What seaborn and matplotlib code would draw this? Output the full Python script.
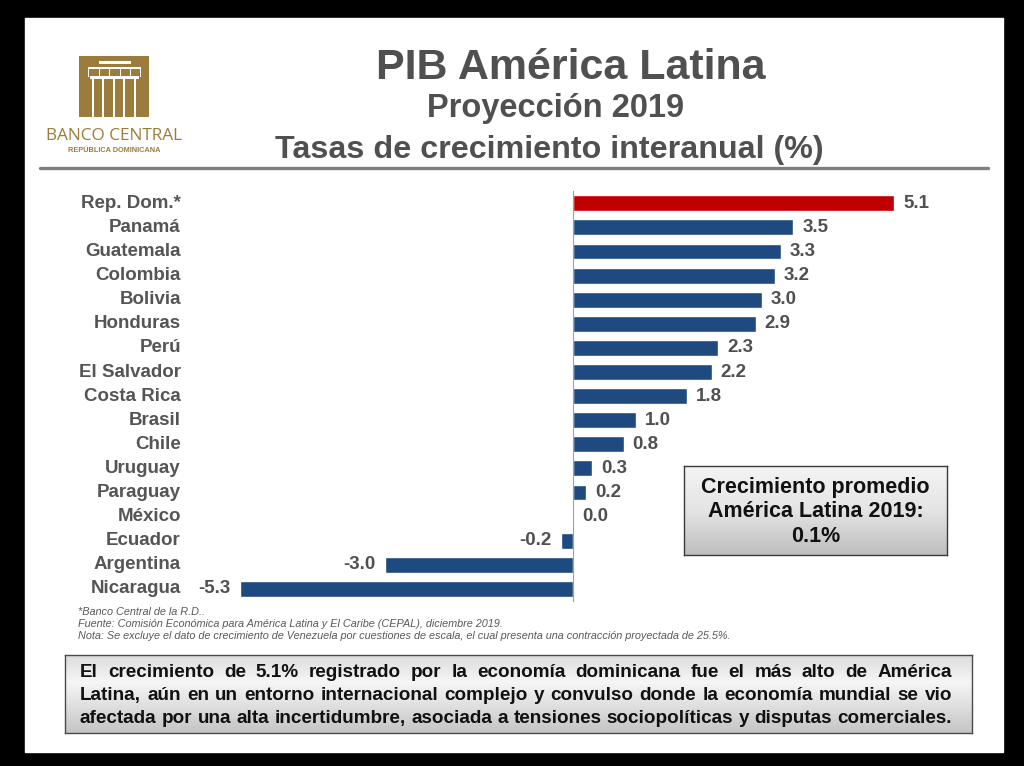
import numpy as np
import pandas as pd
import seaborn as sns
import matplotlib.pyplot as plt
from matplotlib import font_manager
from matplotlib.colors import LinearSegmentedColormap
from matplotlib.lines import Line2D
from matplotlib.patches import Rectangle
from matplotlib.transforms import blended_transform_factory

# datos (CEPAL, dic. 2019)
paises = ['Rep. Dom.*', 'Panamá', 'Guatemala', 'Colombia', 'Bolivia', 'Honduras', 'Perú',
          'El Salvador', 'Costa Rica', 'Brasil', 'Chile', 'Uruguay', 'Paraguay', 'México',
          'Ecuador', 'Argentina', 'Nicaragua']
crecimiento = [5.1, 3.5, 3.3, 3.2, 3.0, 2.9, 2.3, 2.2, 1.8, 1.0, 0.8, 0.3, 0.2, 0.0, -0.2, -3.0, -5.3]
colores = ['#C00000'] + ['#1F4A7F'] * 16

titulo = 'PIB América Latina'
subtitulo1 = 'Proyección 2019'
subtitulo2 = 'Tasas de crecimiento interanual (%)'
recuadro = ['Crecimiento promedio', 'América Latina 2019:', '0.1%']
notas = ['*Banco Central de la R.D..',
         'Fuente: Comisión Económica para América Latina y El Caribe (CEPAL), diciembre 2019.',
         'Nota: Se excluye el dato de crecimiento de Venezuela por cuestiones de escala, '
         'el cual presenta una contracción proyectada de 25.5%.']
conclusion = ['El crecimiento de 5.1% registrado por la economía dominicana fue el más alto de América',
              'Latina, aún en un entorno internacional complejo y convulso donde la economía mundial se vio',
              'afectada por una alta incertidumbre, asociada a tensiones sociopolíticas y disputas comerciales.']

sns.set_style('white')
plt.rcParams['font.family'] = ['Liberation Sans', 'DejaVu Sans']


def have(name):
    try:
        font_manager.findfont(font_manager.FontProperties(family=name), fallback_to_default=False)
        return True
    except ValueError:
        return False


narrow = 'Liberation Sans Narrow' if have('Liberation Sans Narrow') else 'Liberation Sans'

W, H = 1024, 766


def fx(px):
    return px / W


def fy(py):
    return 1 - py / H


fig = plt.figure(figsize=(W / 100, H / 100), dpi=100, facecolor='black')
fig.patches.append(Rectangle((fx(25), fy(752)), (1003 - 25) / W, (752 - 18) / H,
                             transform=fig.transFigure, facecolor='white', zorder=-5))
renderer = fig.canvas.get_renderer()

# logo Banco Central
oro = '#9C7C3C'


def rect(x0, y0, x1, y1, color):
    fig.patches.append(Rectangle((fx(x0), fy(y1)), (x1 - x0) / W, (y1 - y0) / H,
                                 transform=fig.transFigure, facecolor=color, edgecolor='none', zorder=2))


rect(79, 56, 149, 117, oro)
rect(99, 61, 131, 63.5, 'white')
rect(88, 67, 141, 69, 'white')
for xl in [88, 98.5, 109, 119.5, 130, 140]:
    rect(xl, 69, xl + 1.2, 77, 'white')
rect(90, 76.5, 139, 79, 'white')
for xl in [91.5, 102, 112.5, 123, 133.5]:
    rect(xl, 79, xl + 2, 117, 'white')
fig.text(fx(114), fy(136), 'BANCO CENTRAL', ha='center', va='center', fontsize=12.4,
         color=oro, family=['Open Sans', 'DejaVu Sans'])
fig.text(fx(114), fy(150), 'REPÚBLICA DOMINICANA', ha='center', va='center', fontsize=5.3,
         color=oro, fontweight='bold')

# títulos
gris = '#505050'
fig.text(fx(571), fy(79), titulo, ha='center', va='baseline', fontsize=31, fontweight='bold', color=gris)
fig.text(fx(556), fy(117), subtitulo1, ha='center', va='baseline', fontsize=23.5, fontweight='bold', color=gris)
fig.text(fx(549), fy(158), subtitulo2, ha='center', va='baseline', fontsize=23.2, fontweight='bold', color=gris)
fig.add_artist(Line2D([fx(40), fx(988)], [fy(168), fy(168)], color='#7f7f7f', lw=2.4))

# gráfico de barras
cero, escala = 573.3, 62.9
ax = fig.add_axes([fx(190), fy(600.9), (960 - 190) / W, (600.9 - 191.3) / H])
ax.patch.set_alpha(0)
df = pd.DataFrame({'pais': paises, 'crecimiento': crecimiento})
sns.barplot(data=df, x='crecimiento', y='pais', hue='pais', palette=colores, legend=False,
            orient='h', width=0.66, saturation=1, ax=ax)
ax.set_xlim((190 - cero) / escala, (960 - cero) / escala)
ax.set_ylim(16.5, -0.5)
for s in ['top', 'right', 'bottom']:
    ax.spines[s].set_visible(False)
ax.spines['left'].set_position(('data', 0))
ax.spines['left'].set_color('#a0a0a0')
ax.spines['left'].set_linewidth(0.8)
ax.set_xticks([])
ax.set_xlabel('')
ax.set_ylabel('')
ax.tick_params(axis='y', which='major', length=0, labelleft=False)
ax.set_yticks(np.arange(-0.5, len(paises), 1), minor=True)
ax.tick_params(axis='y', which='minor', length=4.5, width=0.8, color='#a0a0a0', direction='out')

trans = blended_transform_factory(ax.transAxes, ax.transData)
for i, p in enumerate(paises):
    ax.text(-0.0117, i, p, transform=trans, ha='right', va='center', fontsize=13.5,
            fontweight='bold', color='#555555')
for cont in ax.containers:
    ax.bar_label(cont, fmt='%.1f', padding=6.5, fontsize=13.5, fontweight='bold', color=gris)


# recuadros con degradado
def caja(x0, y0, x1, y1, stops, borde):
    bx = fig.add_axes([fx(x0), fy(y1), (x1 - x0) / W, (y1 - y0) / H])
    cmap = LinearSegmentedColormap.from_list('g', stops)
    bx.imshow(np.linspace(0, 1, 256).reshape(-1, 1), cmap=cmap, aspect='auto',
              extent=[0, 1, 0, 1], origin='upper')
    bx.set_xticks([])
    bx.set_yticks([])
    for s in bx.spines.values():
        s.set_color(borde)
        s.set_linewidth(1.0)
    return bx


caja(684, 466, 947, 555, [(0, '#f4f4f4'), (0.5, '#e4e4e4'), (1, '#bdbdbd')], '#3a3a3a')
for k, linea in enumerate(recuadro):
    fig.text(fx(815.5), fy(487 + 24.5 * k), linea, ha='center', va='center', fontsize=15.5,
             fontweight='bold', color='#111111')

# notas al pie
t = fig.text(0, 0, notas[2], fontsize=10, style='italic', family=narrow)
tam_nota = 10 * 660 / t.get_window_extent(renderer).width
t.remove()
for k, linea in enumerate(notas):
    fig.text(fx(78), fy(615 + 12 * k), linea, ha='left', va='baseline', fontsize=tam_nota,
             style='italic', family=narrow, color='#595959')

# conclusión justificada
caja(65, 655, 972, 733, [(0, '#dcdcdc'), (0.35, '#f6f6f6'), (1, '#c4c4c4')], '#4a4a4a')
t = fig.text(0, 0, conclusion[2], fontsize=14, fontweight='bold', family=narrow)
tam = 14 * 872 / t.get_window_extent(renderer).width
t.remove()
for k, linea in enumerate(conclusion):
    palabras = linea.split()
    textos = [fig.text(0, fy(677 + 23 * k), w, ha='left', va='baseline', fontsize=tam,
                       fontweight='bold', family=narrow, color='#111111') for w in palabras]
    anchos = [tx.get_window_extent(renderer).width for tx in textos]
    hueco = (872 - sum(anchos)) / (len(palabras) - 1)
    x = 80
    for tx, a in zip(textos, anchos):
        tx.set_x(fx(x))
        x += a + hueco

fig.savefig('out.png', dpi=100, facecolor='black')
